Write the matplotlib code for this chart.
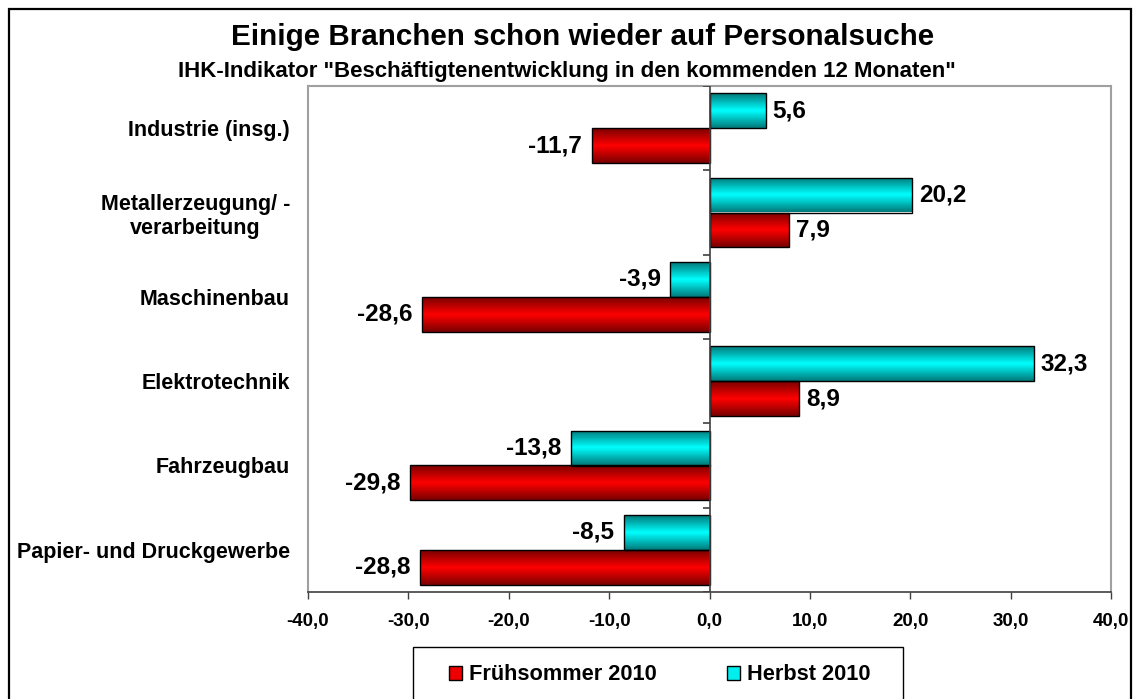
import matplotlib
matplotlib.use('Agg')
import matplotlib.pyplot as plt
import numpy as np
from matplotlib.colors import LinearSegmentedColormap
from matplotlib.patches import Patch, Rectangle

plt.rcParams['font.family'] = ['Liberation Sans', 'DejaVu Sans']
plt.rcParams['font.weight'] = 'bold'

# Daten (von oben nach unten)
branchen = ['Industrie (insg.)', 'Metallerzeugung/ -\nverarbeitung', 'Maschinenbau',
            'Elektrotechnik', 'Fahrzeugbau', 'Papier- und Druckgewerbe']
herbst_2010 = [5.6, 20.2, -3.9, 32.3, -13.8, -8.5]
fruehsommer_2010 = [-11.7, 7.9, -28.6, 8.9, -29.8, -28.8]
x_ticks = [-40, -30, -20, -10, 0, 10, 20, 30, 40]

red_cmap = LinearSegmentedColormap.from_list('r', ['#7a0000', '#ff0000', '#7a0000'])
cyan_cmap = LinearSegmentedColormap.from_list('c', ['#007a7a', '#00ffff', '#007a7a'])

fig = plt.figure(figsize=(11.35, 6.99), dpi=100)
ax = fig.add_axes([308/1135, 1-592/699, (1111-308)/1135, (592-86)/699])

y = np.arange(len(branchen))
h = 0.415
bars_h = ax.barh(y - h/2, herbst_2010, h, facecolor='none', edgecolor='black', linewidth=1, zorder=3)
bars_f = ax.barh(y + h/2, fruehsommer_2010, h, facecolor='none', edgecolor='black', linewidth=1, zorder=3)

# Farbverlauf in den Balken
grad = np.linspace(0, 1, 64).reshape(-1, 1)
for bars, cmap in ((bars_h, cyan_cmap), (bars_f, red_cmap)):
    for p in bars:
        x0, y0, w, hh = p.get_x(), p.get_y(), p.get_width(), p.get_height()
        im = ax.imshow(grad, cmap=cmap, aspect='auto', zorder=2,
                       extent=(x0, x0 + w, y0 + hh, y0), interpolation='bilinear')
        im.set_clip_path(p)

# Wertbeschriftungen
for bars, vals in ((bars_h, herbst_2010), (bars_f, fruehsommer_2010)):
    for p, v in zip(bars, vals):
        yc = p.get_y() + p.get_height()/2
        off = 5 if v >= 0 else -7
        ax.annotate(f'{v:.1f}'.replace('.', ','), xy=(v, yc), xytext=(off, 0),
                    textcoords='offset points', ha='left' if v >= 0 else 'right',
                    va='center', fontsize=17.5, fontweight='bold')

ax.set_xlim(-40, 40)
ax.set_ylim(len(branchen) - 0.5, -0.5)
ax.set_xticks(x_ticks)
ax.set_xticklabels([f'{t:.1f}'.replace('.', ',') for t in x_ticks], fontsize=13.5, fontweight='bold')
ax.tick_params(axis='x', length=5, width=1, color='#404040', pad=10)
ax.set_yticks(y)
ax.set_yticklabels(branchen, fontsize=15.5, fontweight='bold', ha='right',
                   multialignment='center', linespacing=1.2)
ax.tick_params(axis='y', length=0, pad=13)

# Null-Linie mit Kategorie-Teilstrichen
ax.axvline(0, color='#404040', linewidth=1.2, zorder=4)
ax.hlines(np.arange(len(branchen) + 1) - 0.5, -0.6, 0, color='#404040', linewidth=1.2, zorder=4)

for s in ['left', 'top', 'right']:
    ax.spines[s].set_color('#a0a0a0')
    ax.spines[s].set_linewidth(1.5)
ax.spines['bottom'].set_color('#404040')
ax.spines['bottom'].set_linewidth(1.2)

fig.text(583/1135, 1-37/699, 'Einige Branchen schon wieder auf Personalsuche',
         ha='center', va='center', fontsize=21.3, fontweight='bold')
fig.text(567/1135, 1-72/699, 'IHK-Indikator "Beschäftigtenentwicklung in den kommenden 12 Monaten"',
         ha='center', va='center', fontsize=16, fontweight='bold')

handles = [Patch(facecolor='#ee0000', edgecolor='black', linewidth=1),
           Patch(facecolor='#00eeee', edgecolor='black', linewidth=1)]
leg = fig.legend(handles, ['Frühsommer 2010', 'Herbst 2010'], loc='center left',
                 bbox_to_anchor=(449/1135, 1-675/699), ncol=2,
                 prop={'weight': 'bold', 'size': 15.7}, frameon=False,
                 borderpad=0, handlelength=0.6, handleheight=0.6,
                 handletextpad=0.33, columnspacing=3.2, borderaxespad=0)

# Legendenrahmen und Diagrammrahmen
fig.add_artist(Rectangle((413/1135, -0.05), (903-413)/1135, 0.05 + 1-647/699, transform=fig.transFigure,
                         fill=False, edgecolor='black', linewidth=1))
fig.add_artist(Rectangle((9/1135, -0.05), (1131-9)/1135, 1.05 - 9/699, transform=fig.transFigure,
                         fill=False, edgecolor='black', linewidth=1.6))

fig.savefig('out.png', dpi=100)
